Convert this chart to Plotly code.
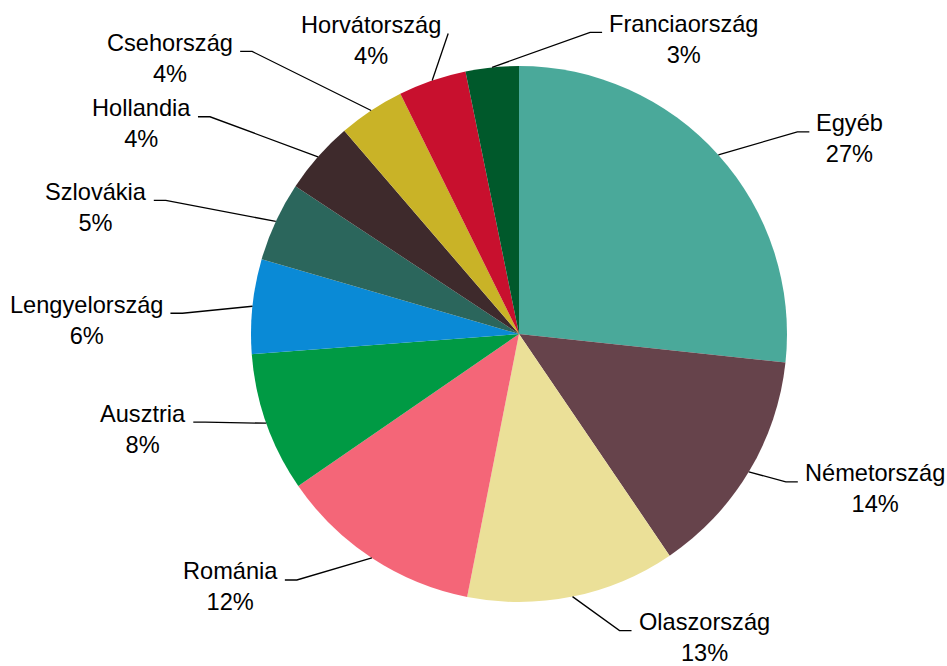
import math
import plotly.graph_objects as go

# ── Data ────────────────────────────────────────────────────────────────
countries = [
    "Egyéb", "Németország", "Olaszország", "Románia", "Ausztria",
    "Lengyelország", "Szlovákia", "Hollandia", "Csehország",
    "Horvátország", "Franciaország",
]
shares = [26.7, 13.8, 12.6, 12.3, 8.4, 5.7, 4.8, 4.4, 4.0, 4.1, 3.2]
colors = [
    "#4aa99a", "#66434b", "#ebe098", "#f46678", "#009a44",
    "#0a8ad6", "#2b665c", "#3e2a2c", "#c9b327", "#c8102e", "#00592b",
]

# ── Label layout (pixels) ───────────────────────────────────────────────
# end of each leader line, relative to the slice's rim point
label_ends = [
    (91, -23), (49, 10), (59, 34), (-87, 22), (-73, -1),
    (-82, 7), (-122, -21), (-120, -40), (-131, -59), (16, -47), (110, -35),
]
# side of the line end the text sits on (+1 right, -1 left)
label_side = [1, 1, 1, -1, -1, -1, -1, -1, -1, -1, 1]
# short horizontal run before the text
label_knee = [12, 12, 12, 12, 12, 12, 12, 12, 12, 0, 12]

W, H = 947, 666
CX, CY, R = 519, 334, 268
FONT = dict(family="Arial, Liberation Sans, sans-serif", size=23.6, color="#000000")


def px(x, y):
    """pixel position -> paper coordinates"""
    return x / W, 1 - y / H


fig = go.Figure(
    go.Pie(
        labels=countries,
        values=shares,
        sort=False,
        direction="clockwise",
        rotation=0,
        marker=dict(colors=colors, line=dict(width=0)),
        textinfo="none",
        hovertemplate="%{label}: %{percent}<extra></extra>",
        domain=dict(x=[(CX - R) / W, (CX + R) / W],
                    y=[1 - (CY + R) / H, 1 - (CY - R) / H]),
        showlegend=False,
    )
)

total = sum(shares)
cum = 0
shapes, annotations = [], []
for name, v, (dx, dy), side, knee in zip(countries, shares, label_ends,
                                          label_side, label_knee):
    mid = (cum + v / 2) / total * 2 * math.pi
    cum += v
    ex, ey = CX + R * math.sin(mid), CY - R * math.cos(mid)
    tx, ty = ex + dx, ey + dy
    kx = tx - side * knee

    p0, p1, p2 = px(ex, ey), px(kx, ty), px(tx, ty)
    shapes.append(dict(
        type="path", xref="paper", yref="paper",
        path=f"M {p0[0]} {p0[1]} L {p1[0]} {p1[1]} L {p2[0]} {p2[1]}",
        line=dict(color="#000000", width=1.3),
    ))

    ax, ay = px(tx + side * 5, ty + 7)
    annotations.append(dict(
        text=f"{name}<br>{v / total * 100:.0f}%",
        x=ax, y=ay, xref="paper", yref="paper",
        xanchor="left" if side > 0 else "right", yanchor="middle",
        align="center", showarrow=False, font=FONT,
    ))

fig.update_layout(
    width=W,
    height=H,
    margin=dict(l=0, r=0, t=0, b=0),
    paper_bgcolor="#ffffff",
    plot_bgcolor="#ffffff",
    shapes=shapes,
    annotations=annotations,
)

# drop the browser's default body margin so the figure fills the window
fig.write_html(
    "out.html",
    config={"displayModeBar": False},
    post_script="document.body.style.margin='0';document.body.style.overflow='hidden';",
)
